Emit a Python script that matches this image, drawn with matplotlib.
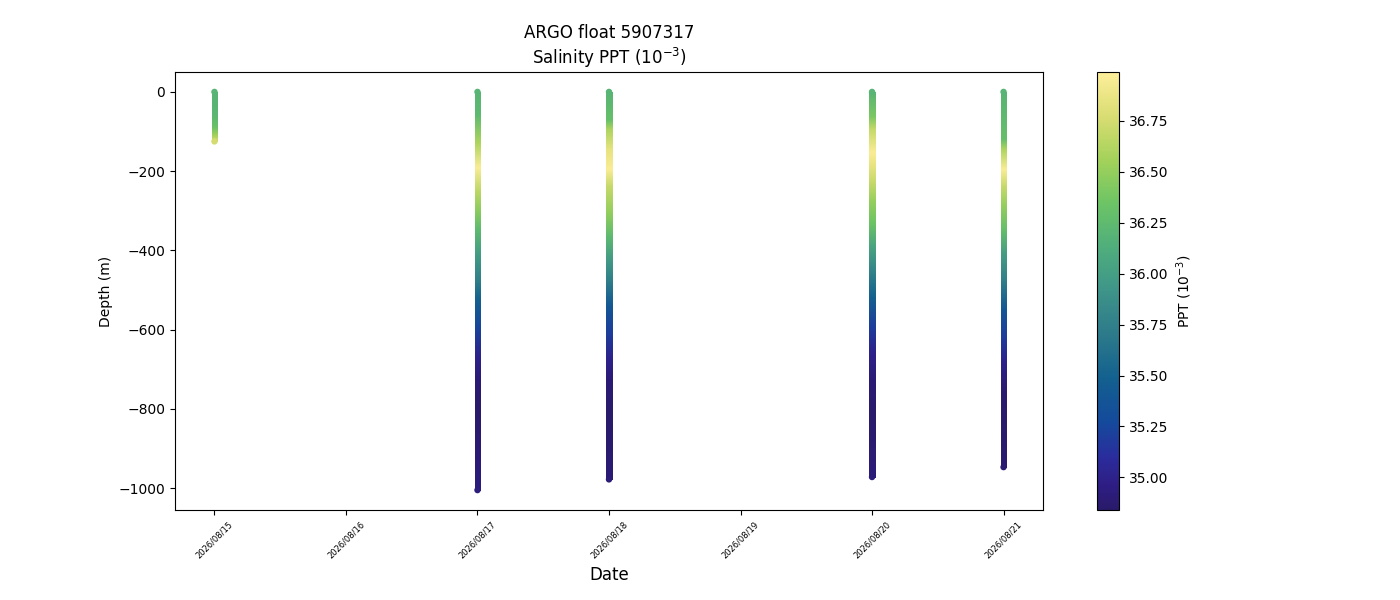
import matplotlib
matplotlib.use("Agg")
import matplotlib.pyplot as plt
import matplotlib.dates as mdates
from matplotlib.colors import LinearSegmentedColormap
from matplotlib.image import NonUniformImage
from matplotlib.patches import Rectangle
import numpy as np
import datetime as dt

# profile dates
dates = ["2026-08-15", "2026-08-17", "2026-08-18", "2026-08-20", "2026-08-21"]

# depth (m) and salinity (PPT) read along each profile
depth_0815 = [0, -30, -60, -90, -110, -125]
sal_0815 = [36.20, 36.20, 36.22, 36.32, 36.55, 36.75]

depth_0817 = [0, -60, -129, -192, -255, -306, -348, -407, -475, -525, -593, -669, -727, -786, -853, -930, -1005]
sal_0817 = [36.20, 36.25, 36.60, 36.97, 36.65, 36.45, 36.25, 36.00, 35.75, 35.50, 35.25, 35.00, 34.90, 34.85, 34.87, 34.90, 34.93]

depth_0818 = [0, -71, -96, -146, -197, -240, -306, -366, -417, -475, -543, -609, -677, -727, -811, -900, -978]
sal_0818 = [36.20, 36.30, 36.60, 36.85, 36.97, 36.70, 36.50, 36.25, 36.00, 35.75, 35.40, 35.20, 35.00, 34.90, 34.85, 34.87, 34.90]

depth_0820 = [0, -63, -96, -154, -189, -230, -280, -331, -391, -449, -518, -593, -659, -727, -811, -900, -972]
sal_0820 = [36.20, 36.40, 36.70, 36.97, 36.85, 36.70, 36.50, 36.35, 36.05, 35.80, 35.50, 35.20, 35.00, 34.90, 34.85, 34.88, 34.92]

depth_0821 = [0, -121, -146, -197, -240, -290, -348, -407, -475, -551, -619, -684, -745, -811, -880, -947]
sal_0821 = [36.20, 36.30, 36.60, 36.97, 36.70, 36.50, 36.30, 36.00, 35.75, 35.40, 35.20, 35.00, 34.88, 34.85, 34.86, 34.88]

depths = [depth_0815, depth_0817, depth_0818, depth_0820, depth_0821]
sals = [sal_0815, sal_0817, sal_0818, sal_0820, sal_0821]

vmin, vmax = 34.84, 36.99

# haline-like colormap
haline = LinearSegmentedColormap.from_list("haline_like", [
    (0.00, "#2a1a6a"), (0.06, "#2e1e86"), (0.12, "#2a2d9c"), (0.20, "#144a9c"),
    (0.30, "#13608f"), (0.40, "#2c7a8a"), (0.50, "#3e9489"), (0.60, "#4fae7c"),
    (0.70, "#6cc465"), (0.80, "#a3d25a"), (0.90, "#d9dd72"), (1.00, "#fdee9a")])

fig = plt.figure(figsize=(14, 6), dpi=100)
ax = plt.gca()
half_w = 0.0215  # days

times = [mdates.date2num(dt.datetime.strptime(d, "%Y-%m-%d")) for d in dates]
for t, z, s in zip(times, depths, sals):
    z = np.array(z, dtype=float)[::-1]
    s = np.array(s, dtype=float)[::-1]
    im = NonUniformImage(ax, interpolation="bilinear", cmap=haline)
    im.set_clim(vmin, vmax)
    im.set_data(np.array([t - half_w, t + half_w]), z, np.column_stack([s, s]))
    ax.add_image(im)
    clip = Rectangle((t - half_w, z.min()), 2 * half_w, z.max() - z.min(),
                     transform=ax.transData, facecolor="none", edgecolor="none")
    im.set_clip_path(clip)
    # round caps at the profile ends
    ends = [0, -1]
    sc = ax.scatter(np.full(2, t), z[ends], c=s[ends], cmap=haline, vmin=vmin, vmax=vmax, s=13)

span = max(times) - min(times)
ax.set_xlim(min(times) - 0.05 * span, max(times) + 0.05 * span)
zmin = min(min(z) for z in depths)
ax.set_ylim(zmin * 1.05, -zmin * 0.05)

ax.xaxis.set_major_formatter(mdates.DateFormatter("%Y/%m/%d"))
ax.xaxis.set_major_locator(mdates.DayLocator())
plt.xticks(rotation=45, fontsize=6)
plt.xlabel("Date", fontsize=12)
plt.ylabel("Depth (m)")
plt.title("ARGO float 5907317\nSalinity PPT ($10^{-3}$)")
cb = plt.colorbar(sc)
cb.set_label("PPT ($10^{-3}$)")
plt.subplots_adjust(bottom=0.15)
plt.savefig("out.png")
